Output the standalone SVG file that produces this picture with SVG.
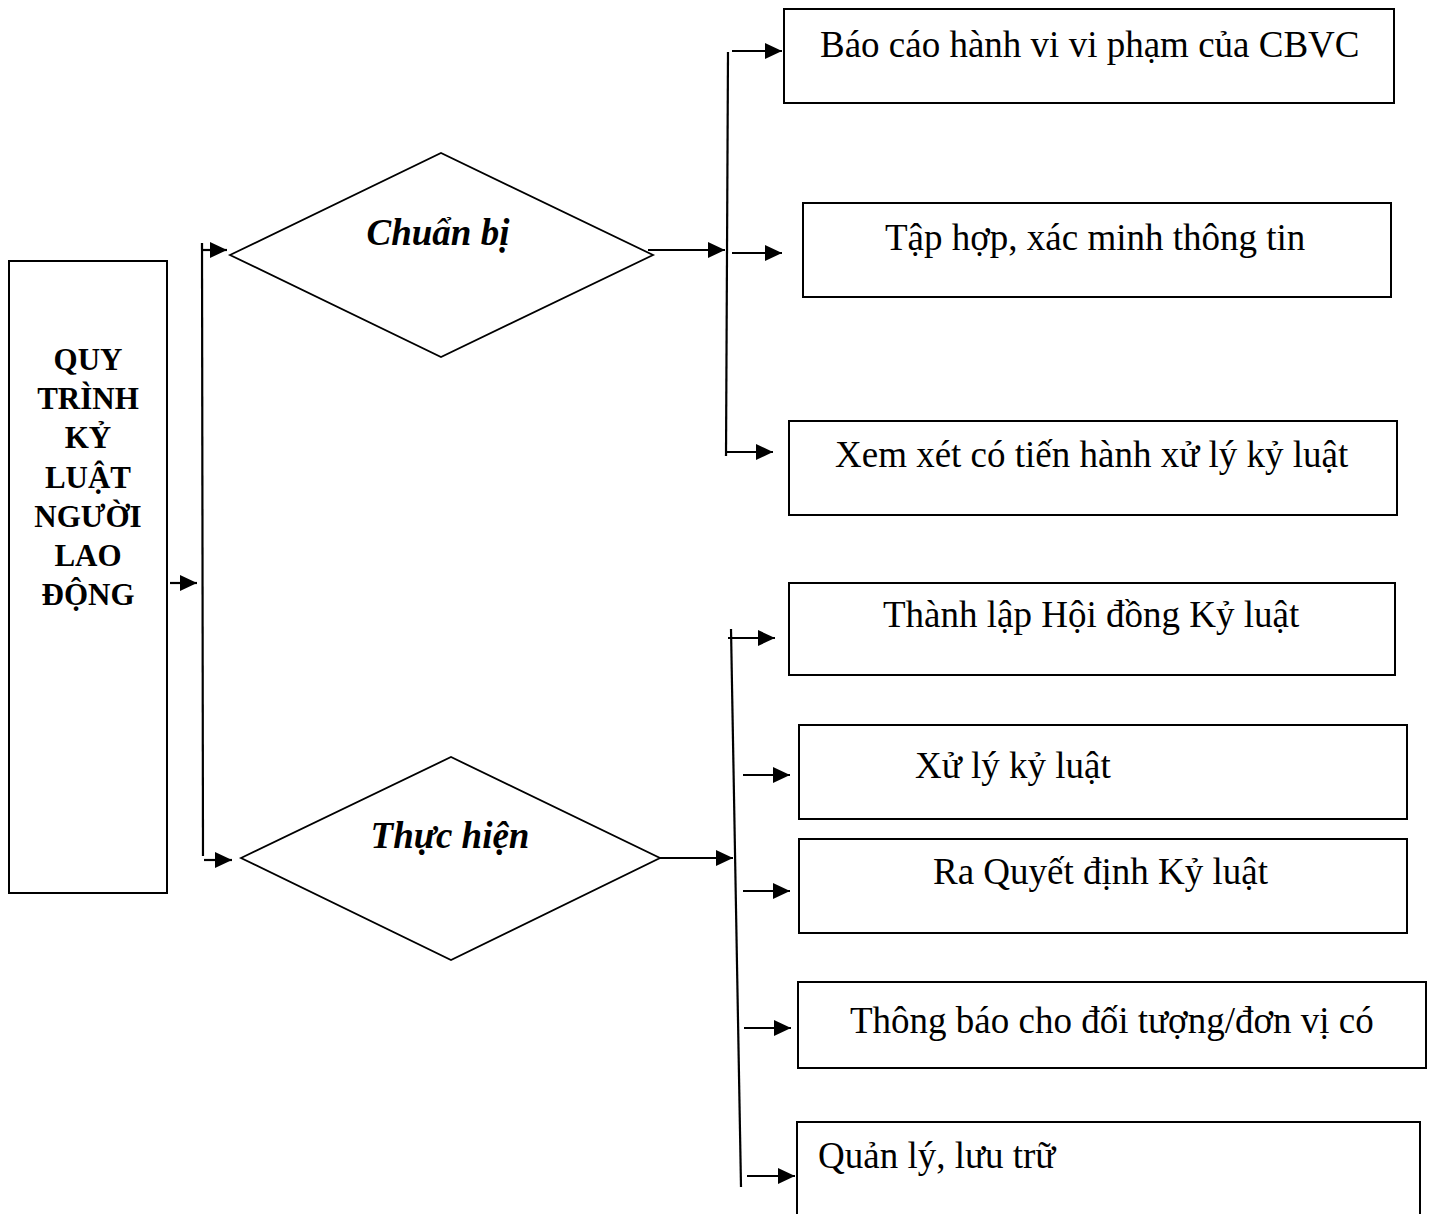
<svg xmlns="http://www.w3.org/2000/svg" width="1433" height="1214" viewBox="0 0 1433 1214">
<style>
.box{fill:#fff;stroke:#000;stroke-width:2}
.dia{fill:#fff;stroke:#000;stroke-width:1.8}
.t{font-family:"Liberation Serif","Times New Roman",serif;font-size:37px;fill:#000}
.bt{font-family:"Liberation Serif","Times New Roman",serif;font-size:31px;font-weight:bold;fill:#000;text-anchor:middle}
.dt{font-family:"Liberation Serif","Times New Roman",serif;font-size:37px;font-weight:bold;font-style:italic;fill:#000;text-anchor:middle}
.c{fill:none;stroke:#000;stroke-width:2.2}
</style>
<defs>
<marker id="ah" markerUnits="userSpaceOnUse" markerWidth="18" markerHeight="16" refX="17" refY="8" orient="auto">
<path d="M0,0 L17,8 L0,16 z" fill="#000"/>
</marker>
</defs>
<rect width="1433" height="1214" fill="#fff"/>

<g id="root">
<rect class="box" x="9" y="261" width="158" height="632"/>
<text class="bt" x="88" y="370">QUY</text>
<text class="bt" x="88" y="409">TRÌNH</text>
<text class="bt" x="88" y="448">KỶ</text>
<text class="bt" x="88" y="488">LUẬT</text>
<text class="bt" x="88" y="527">NGƯỜI</text>
<text class="bt" x="88" y="566">LAO</text>
<text class="bt" x="88" y="605">ĐỘNG</text>
</g>

<g id="chuanbi">
<polygon class="dia" points="230,255 441,153 653,255 441,357"/>
<text class="dt" x="438" y="245">Chuẩn bị</text>
</g>

<g id="thuchien">
<polygon class="dia" points="241,858 451,757 660,858 451,960"/>
<text class="dt" x="450" y="848">Thực hiện</text>
</g>

<g id="n1">
<rect class="box" x="784" y="9" width="610" height="94"/>
<text class="t" x="820" y="57">Báo cáo hành vi vi phạm của CBVC</text>
</g>
<g id="n2">
<rect class="box" x="803" y="203" width="588" height="94"/>
<text class="t" x="885" y="250">Tập hợp, xác minh thông tin</text>
</g>
<g id="n3">
<rect class="box" x="789" y="421" width="608" height="94"/>
<text class="t" x="835" y="467">Xem xét có tiến hành xử lý kỷ luật</text>
</g>
<g id="n4">
<rect class="box" x="789" y="583" width="606" height="92"/>
<text class="t" x="883" y="627">Thành lập Hội đồng Kỷ luật</text>
</g>
<g id="n5">
<rect class="box" x="799" y="725" width="608" height="94"/>
<text class="t" x="915" y="778">Xử lý kỷ luật</text>
</g>
<g id="n6">
<rect class="box" x="799" y="839" width="608" height="94"/>
<text class="t" x="933" y="884">Ra Quyết định Kỷ luật</text>
</g>
<g id="n7">
<rect class="box" x="798" y="982" width="628" height="86"/>
<text class="t" x="850" y="1033">Thông báo cho đối tượng/đơn vị có</text>
</g>
<g id="n8">
<rect class="box" x="797" y="1122" width="623" height="100"/>
<text class="t" x="818" y="1168">Quản lý, lưu trữ</text>
</g>

<g id="connectors">
<line class="c" x1="202" y1="243" x2="203" y2="856"/>
<line class="c" x1="170" y1="583" x2="197" y2="583" marker-end="url(#ah)"/>
<line class="c" x1="203" y1="250" x2="227" y2="250" marker-end="url(#ah)"/>
<line class="c" x1="204" y1="860" x2="232" y2="860" marker-end="url(#ah)"/>

<line class="c" x1="648" y1="250" x2="725" y2="250" marker-end="url(#ah)"/>
<line class="c" x1="728" y1="52" x2="726" y2="456"/>
<line class="c" x1="732" y1="51" x2="782" y2="51" marker-end="url(#ah)"/>
<line class="c" x1="732" y1="253" x2="782" y2="253" marker-end="url(#ah)"/>
<line class="c" x1="726" y1="452" x2="773" y2="452" marker-end="url(#ah)"/>

<line class="c" x1="660" y1="858" x2="733" y2="858" marker-end="url(#ah)"/>
<line class="c" x1="731" y1="629" x2="741" y2="1187"/>
<line class="c" x1="728" y1="638" x2="775" y2="638" marker-end="url(#ah)"/>
<line class="c" x1="743" y1="775" x2="790" y2="775" marker-end="url(#ah)"/>
<line class="c" x1="743" y1="891" x2="790" y2="891" marker-end="url(#ah)"/>
<line class="c" x1="744" y1="1028" x2="791" y2="1028" marker-end="url(#ah)"/>
<line class="c" x1="747" y1="1176" x2="795" y2="1176" marker-end="url(#ah)"/>
</g>
</svg>
